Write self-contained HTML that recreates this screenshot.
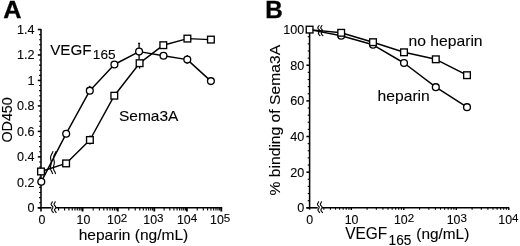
<!DOCTYPE html>
<html><head><meta charset="utf-8"><title>Figure</title>
<style>
html,body{margin:0;padding:0;background:#fff;}
body{width:520px;height:246px;overflow:hidden;font-family:"Liberation Sans",sans-serif;}
svg{display:block;}
.ax{stroke:#000;stroke-width:1.55;fill:none;}
.mn{stroke:#000;stroke-width:1.1;fill:none;}
.mj{stroke:#000;stroke-width:1.8;fill:none;}
.mj2{stroke:#000;stroke-width:1.4;fill:none;}
.sq{stroke:#000;stroke-width:1.15;fill:none;}
.ln{stroke:#000;stroke-width:1.45;fill:none;stroke-linejoin:round;}
.eb{stroke:#000;stroke-width:1.3;fill:none;}
.mk{stroke:#000;stroke-width:1.35;fill:#fff;}
.t{font-family:"Liberation Sans",sans-serif;fill:#000;stroke:#000;stroke-width:0.1;}
.b{font-family:"Liberation Sans",sans-serif;font-weight:bold;fill:#000;stroke:#000;stroke-width:0.35;}
</style></head><body>
<svg width="520" height="246" viewBox="0 0 520 246">
<defs><filter id="soft" x="0" y="0" width="520" height="246" filterUnits="userSpaceOnUse"><feGaussianBlur stdDeviation="0.42"/></filter></defs>
<g filter="url(#soft)">
<rect x="-5" y="-5" width="530" height="256" fill="#fff"/>
<line x1="41.0" y1="28.9" x2="41.0" y2="211.4" class="ax"/>
<line x1="37.8" y1="207.8" x2="51.4" y2="207.8" class="ax"/>
<line x1="55.800000000000004" y1="207.8" x2="222.2" y2="207.8" class="ax"/>
<line x1="37.8" y1="207.80" x2="41.0" y2="207.80" class="ax"/>
<line x1="37.8" y1="182.33" x2="41.0" y2="182.33" class="ax"/>
<line x1="37.8" y1="156.86" x2="41.0" y2="156.86" class="ax"/>
<line x1="37.8" y1="131.39" x2="41.0" y2="131.39" class="ax"/>
<line x1="37.8" y1="105.91" x2="41.0" y2="105.91" class="ax"/>
<line x1="37.8" y1="80.44" x2="41.0" y2="80.44" class="ax"/>
<line x1="37.8" y1="54.97" x2="41.0" y2="54.97" class="ax"/>
<line x1="37.8" y1="29.50" x2="41.0" y2="29.50" class="ax"/>
<line x1="39.1" y1="202.71" x2="41.0" y2="202.71" class="mn"/>
<line x1="39.1" y1="197.61" x2="41.0" y2="197.61" class="mn"/>
<line x1="39.1" y1="192.52" x2="41.0" y2="192.52" class="mn"/>
<line x1="39.1" y1="187.42" x2="41.0" y2="187.42" class="mn"/>
<line x1="39.1" y1="177.23" x2="41.0" y2="177.23" class="mn"/>
<line x1="39.1" y1="172.14" x2="41.0" y2="172.14" class="mn"/>
<line x1="39.1" y1="167.05" x2="41.0" y2="167.05" class="mn"/>
<line x1="39.1" y1="161.95" x2="41.0" y2="161.95" class="mn"/>
<line x1="39.1" y1="151.76" x2="41.0" y2="151.76" class="mn"/>
<line x1="39.1" y1="146.67" x2="41.0" y2="146.67" class="mn"/>
<line x1="39.1" y1="141.57" x2="41.0" y2="141.57" class="mn"/>
<line x1="39.1" y1="136.48" x2="41.0" y2="136.48" class="mn"/>
<line x1="39.1" y1="126.29" x2="41.0" y2="126.29" class="mn"/>
<line x1="39.1" y1="121.20" x2="41.0" y2="121.20" class="mn"/>
<line x1="39.1" y1="116.10" x2="41.0" y2="116.10" class="mn"/>
<line x1="39.1" y1="111.01" x2="41.0" y2="111.01" class="mn"/>
<line x1="39.1" y1="100.82" x2="41.0" y2="100.82" class="mn"/>
<line x1="39.1" y1="95.73" x2="41.0" y2="95.73" class="mn"/>
<line x1="39.1" y1="90.63" x2="41.0" y2="90.63" class="mn"/>
<line x1="39.1" y1="85.54" x2="41.0" y2="85.54" class="mn"/>
<line x1="39.1" y1="75.35" x2="41.0" y2="75.35" class="mn"/>
<line x1="39.1" y1="70.25" x2="41.0" y2="70.25" class="mn"/>
<line x1="39.1" y1="65.16" x2="41.0" y2="65.16" class="mn"/>
<line x1="39.1" y1="60.07" x2="41.0" y2="60.07" class="mn"/>
<line x1="39.1" y1="49.88" x2="41.0" y2="49.88" class="mn"/>
<line x1="39.1" y1="44.78" x2="41.0" y2="44.78" class="mn"/>
<line x1="39.1" y1="39.69" x2="41.0" y2="39.69" class="mn"/>
<line x1="39.1" y1="34.59" x2="41.0" y2="34.59" class="mn"/>
<line x1="82.60" y1="207.8" x2="82.60" y2="211.5" class="mj"/>
<line x1="117.80" y1="207.8" x2="117.80" y2="211.5" class="mj"/>
<line x1="154.30" y1="207.8" x2="154.30" y2="211.5" class="mj"/>
<line x1="186.90" y1="207.8" x2="186.90" y2="211.5" class="mj"/>
<line x1="221.30" y1="207.8" x2="221.30" y2="211.5" class="mj"/>
<line x1="58.56" y1="207.8" x2="58.56" y2="210.5" class="mn"/>
<line x1="64.61" y1="207.8" x2="64.61" y2="210.5" class="mn"/>
<line x1="68.91" y1="207.8" x2="68.91" y2="210.5" class="mn"/>
<line x1="72.24" y1="207.8" x2="72.24" y2="210.5" class="mn"/>
<line x1="74.97" y1="207.8" x2="74.97" y2="210.5" class="mn"/>
<line x1="77.27" y1="207.8" x2="77.27" y2="210.5" class="mn"/>
<line x1="79.27" y1="207.8" x2="79.27" y2="210.5" class="mn"/>
<line x1="81.03" y1="207.8" x2="81.03" y2="210.5" class="mn"/>
<line x1="93.20" y1="207.8" x2="93.20" y2="210.5" class="mn"/>
<line x1="99.39" y1="207.8" x2="99.39" y2="210.5" class="mn"/>
<line x1="103.79" y1="207.8" x2="103.79" y2="210.5" class="mn"/>
<line x1="107.20" y1="207.8" x2="107.20" y2="210.5" class="mn"/>
<line x1="109.99" y1="207.8" x2="109.99" y2="210.5" class="mn"/>
<line x1="112.35" y1="207.8" x2="112.35" y2="210.5" class="mn"/>
<line x1="114.39" y1="207.8" x2="114.39" y2="210.5" class="mn"/>
<line x1="116.19" y1="207.8" x2="116.19" y2="210.5" class="mn"/>
<line x1="128.79" y1="207.8" x2="128.79" y2="210.5" class="mn"/>
<line x1="135.21" y1="207.8" x2="135.21" y2="210.5" class="mn"/>
<line x1="139.78" y1="207.8" x2="139.78" y2="210.5" class="mn"/>
<line x1="143.31" y1="207.8" x2="143.31" y2="210.5" class="mn"/>
<line x1="146.20" y1="207.8" x2="146.20" y2="210.5" class="mn"/>
<line x1="148.65" y1="207.8" x2="148.65" y2="210.5" class="mn"/>
<line x1="150.76" y1="207.8" x2="150.76" y2="210.5" class="mn"/>
<line x1="152.63" y1="207.8" x2="152.63" y2="210.5" class="mn"/>
<line x1="164.11" y1="207.8" x2="164.11" y2="210.5" class="mn"/>
<line x1="169.85" y1="207.8" x2="169.85" y2="210.5" class="mn"/>
<line x1="173.93" y1="207.8" x2="173.93" y2="210.5" class="mn"/>
<line x1="177.09" y1="207.8" x2="177.09" y2="210.5" class="mn"/>
<line x1="179.67" y1="207.8" x2="179.67" y2="210.5" class="mn"/>
<line x1="181.85" y1="207.8" x2="181.85" y2="210.5" class="mn"/>
<line x1="183.74" y1="207.8" x2="183.74" y2="210.5" class="mn"/>
<line x1="185.41" y1="207.8" x2="185.41" y2="210.5" class="mn"/>
<line x1="197.26" y1="207.8" x2="197.26" y2="210.5" class="mn"/>
<line x1="203.31" y1="207.8" x2="203.31" y2="210.5" class="mn"/>
<line x1="207.61" y1="207.8" x2="207.61" y2="210.5" class="mn"/>
<line x1="210.94" y1="207.8" x2="210.94" y2="210.5" class="mn"/>
<line x1="213.67" y1="207.8" x2="213.67" y2="210.5" class="mn"/>
<line x1="215.97" y1="207.8" x2="215.97" y2="210.5" class="mn"/>
<line x1="217.97" y1="207.8" x2="217.97" y2="210.5" class="mn"/>
<line x1="219.73" y1="207.8" x2="219.73" y2="210.5" class="mn"/>
<line x1="309.6" y1="29.0" x2="309.6" y2="209.60000000000002" class="ax"/>
<line x1="306.40000000000003" y1="207.8" x2="317.7" y2="207.8" class="ax"/>
<line x1="322.09999999999997" y1="207.8" x2="509.20000000000005" y2="207.8" class="ax"/>
<line x1="306.40000000000003" y1="207.80" x2="309.6" y2="207.80" class="ax"/>
<line x1="306.40000000000003" y1="172.16" x2="309.6" y2="172.16" class="ax"/>
<line x1="306.40000000000003" y1="136.52" x2="309.6" y2="136.52" class="ax"/>
<line x1="306.40000000000003" y1="100.88" x2="309.6" y2="100.88" class="ax"/>
<line x1="306.40000000000003" y1="65.24" x2="309.6" y2="65.24" class="ax"/>
<line x1="306.40000000000003" y1="29.60" x2="309.6" y2="29.60" class="ax"/>
<line x1="307.70000000000005" y1="200.67" x2="309.6" y2="200.67" class="mn"/>
<line x1="307.70000000000005" y1="193.54" x2="309.6" y2="193.54" class="mn"/>
<line x1="307.70000000000005" y1="186.42" x2="309.6" y2="186.42" class="mn"/>
<line x1="307.70000000000005" y1="179.29" x2="309.6" y2="179.29" class="mn"/>
<line x1="307.70000000000005" y1="165.03" x2="309.6" y2="165.03" class="mn"/>
<line x1="307.70000000000005" y1="157.90" x2="309.6" y2="157.90" class="mn"/>
<line x1="307.70000000000005" y1="150.78" x2="309.6" y2="150.78" class="mn"/>
<line x1="307.70000000000005" y1="143.65" x2="309.6" y2="143.65" class="mn"/>
<line x1="307.70000000000005" y1="129.39" x2="309.6" y2="129.39" class="mn"/>
<line x1="307.70000000000005" y1="122.26" x2="309.6" y2="122.26" class="mn"/>
<line x1="307.70000000000005" y1="115.14" x2="309.6" y2="115.14" class="mn"/>
<line x1="307.70000000000005" y1="108.01" x2="309.6" y2="108.01" class="mn"/>
<line x1="307.70000000000005" y1="93.75" x2="309.6" y2="93.75" class="mn"/>
<line x1="307.70000000000005" y1="86.62" x2="309.6" y2="86.62" class="mn"/>
<line x1="307.70000000000005" y1="79.50" x2="309.6" y2="79.50" class="mn"/>
<line x1="307.70000000000005" y1="72.37" x2="309.6" y2="72.37" class="mn"/>
<line x1="307.70000000000005" y1="58.11" x2="309.6" y2="58.11" class="mn"/>
<line x1="307.70000000000005" y1="50.98" x2="309.6" y2="50.98" class="mn"/>
<line x1="307.70000000000005" y1="43.86" x2="309.6" y2="43.86" class="mn"/>
<line x1="307.70000000000005" y1="36.73" x2="309.6" y2="36.73" class="mn"/>
<line x1="351.30" y1="207.8" x2="351.30" y2="210.10000000000002" class="mj2"/>
<line x1="403.80" y1="207.8" x2="403.80" y2="210.10000000000002" class="mj2"/>
<line x1="456.30" y1="207.8" x2="456.30" y2="210.10000000000002" class="mj2"/>
<line x1="508.80" y1="207.8" x2="508.80" y2="210.10000000000002" class="mj2"/>
<line x1="323.85" y1="207.8" x2="323.85" y2="209.70000000000002" class="mn"/>
<line x1="330.41" y1="207.8" x2="330.41" y2="209.70000000000002" class="mn"/>
<line x1="335.50" y1="207.8" x2="335.50" y2="209.70000000000002" class="mn"/>
<line x1="339.65" y1="207.8" x2="339.65" y2="209.70000000000002" class="mn"/>
<line x1="343.17" y1="207.8" x2="343.17" y2="209.70000000000002" class="mn"/>
<line x1="346.21" y1="207.8" x2="346.21" y2="209.70000000000002" class="mn"/>
<line x1="348.90" y1="207.8" x2="348.90" y2="209.70000000000002" class="mn"/>
<line x1="367.10" y1="207.8" x2="367.10" y2="209.70000000000002" class="mn"/>
<line x1="376.35" y1="207.8" x2="376.35" y2="209.70000000000002" class="mn"/>
<line x1="382.91" y1="207.8" x2="382.91" y2="209.70000000000002" class="mn"/>
<line x1="388.00" y1="207.8" x2="388.00" y2="209.70000000000002" class="mn"/>
<line x1="392.15" y1="207.8" x2="392.15" y2="209.70000000000002" class="mn"/>
<line x1="395.67" y1="207.8" x2="395.67" y2="209.70000000000002" class="mn"/>
<line x1="398.71" y1="207.8" x2="398.71" y2="209.70000000000002" class="mn"/>
<line x1="401.40" y1="207.8" x2="401.40" y2="209.70000000000002" class="mn"/>
<line x1="419.60" y1="207.8" x2="419.60" y2="209.70000000000002" class="mn"/>
<line x1="428.85" y1="207.8" x2="428.85" y2="209.70000000000002" class="mn"/>
<line x1="435.41" y1="207.8" x2="435.41" y2="209.70000000000002" class="mn"/>
<line x1="440.50" y1="207.8" x2="440.50" y2="209.70000000000002" class="mn"/>
<line x1="444.65" y1="207.8" x2="444.65" y2="209.70000000000002" class="mn"/>
<line x1="448.17" y1="207.8" x2="448.17" y2="209.70000000000002" class="mn"/>
<line x1="451.21" y1="207.8" x2="451.21" y2="209.70000000000002" class="mn"/>
<line x1="453.90" y1="207.8" x2="453.90" y2="209.70000000000002" class="mn"/>
<line x1="472.10" y1="207.8" x2="472.10" y2="209.70000000000002" class="mn"/>
<line x1="481.35" y1="207.8" x2="481.35" y2="209.70000000000002" class="mn"/>
<line x1="487.91" y1="207.8" x2="487.91" y2="209.70000000000002" class="mn"/>
<line x1="493.00" y1="207.8" x2="493.00" y2="209.70000000000002" class="mn"/>
<line x1="497.15" y1="207.8" x2="497.15" y2="209.70000000000002" class="mn"/>
<line x1="500.67" y1="207.8" x2="500.67" y2="209.70000000000002" class="mn"/>
<line x1="503.71" y1="207.8" x2="503.71" y2="209.70000000000002" class="mn"/>
<line x1="506.40" y1="207.8" x2="506.40" y2="209.70000000000002" class="mn"/>
<polyline points="41.3,181.7 66.2,133.7 89.8,90.7 114.4,64.5 139.1,51.6 163.5,55.8 187.3,59.6 210.9,81.1" class="ln"/>
<polyline points="41.0,171.5 66.1,163.4 89.9,140.0 114.3,95.7 139.6,63.2 163.3,45.2 187.4,38.6 210.9,39.6" class="ln"/>
<polyline points="53.00,151.20 52.76,152.01 52.41,152.83 52.00,153.64 51.56,154.46 51.16,155.27 50.84,156.09 50.64,156.90 50.57,157.71 50.63,158.53 50.77,159.34 50.96,160.16 51.14,160.97 51.26,161.79 51.30,162.60 51.24,163.41 51.08,164.23 50.87,165.04 50.66,165.86 50.48,166.67 50.40,167.49 50.44,168.30 50.61,169.11 50.90,169.93 51.27,170.74 51.68,171.56 52.07,172.37 52.39,173.19 52.60,174.00" class="sq"/>
<polyline points="56.00,151.20 55.76,152.01 55.41,152.83 55.00,153.64 54.56,154.46 54.16,155.27 53.84,156.09 53.64,156.90 53.57,157.71 53.63,158.53 53.77,159.34 53.96,160.16 54.14,160.97 54.26,161.79 54.30,162.60 54.24,163.41 54.08,164.23 53.87,165.04 53.66,165.86 53.48,166.67 53.40,167.49 53.44,168.30 53.61,169.11 53.90,169.93 54.27,170.74 54.68,171.56 55.07,172.37 55.39,173.19 55.60,174.00" class="sq"/>
<polyline points="52.35,201.40 52.32,201.81 52.16,202.23 51.91,202.64 51.64,203.06 51.39,203.47 51.23,203.89 51.20,204.30 51.31,204.71 51.53,205.13 51.85,205.54 52.20,205.96 52.52,206.37 52.74,206.79 52.85,207.20 52.82,207.61 52.66,208.03 52.41,208.44 52.14,208.86 51.89,209.27 51.73,209.69 51.70,210.10 51.81,210.51 52.03,210.93 52.35,211.34 52.70,211.76 53.02,212.17 53.24,212.59 53.35,213.00" class="sq"/>
<polyline points="55.25,201.40 55.22,201.81 55.06,202.23 54.81,202.64 54.54,203.06 54.29,203.47 54.13,203.89 54.10,204.30 54.21,204.71 54.43,205.13 54.75,205.54 55.10,205.96 55.42,206.37 55.64,206.79 55.75,207.20 55.72,207.61 55.56,208.03 55.31,208.44 55.04,208.86 54.79,209.27 54.63,209.69 54.60,210.10 54.71,210.51 54.93,210.93 55.25,211.34 55.60,211.76 55.92,212.17 56.14,212.59 56.25,213.00" class="sq"/>
<polyline points="318.65,201.40 318.62,201.81 318.46,202.23 318.21,202.64 317.94,203.06 317.69,203.47 317.53,203.89 317.50,204.30 317.61,204.71 317.83,205.13 318.15,205.54 318.50,205.96 318.82,206.37 319.04,206.79 319.15,207.20 319.12,207.61 318.96,208.03 318.71,208.44 318.44,208.86 318.19,209.27 318.03,209.69 318.00,210.10 318.11,210.51 318.33,210.93 318.65,211.34 319.00,211.76 319.32,212.17 319.54,212.59 319.65,213.00" class="sq"/>
<polyline points="321.55,201.40 321.52,201.81 321.36,202.23 321.11,202.64 320.84,203.06 320.59,203.47 320.43,203.89 320.40,204.30 320.51,204.71 320.73,205.13 321.05,205.54 321.40,205.96 321.72,206.37 321.94,206.79 322.05,207.20 322.02,207.61 321.86,208.03 321.61,208.44 321.34,208.86 321.09,209.27 320.93,209.69 320.90,210.10 321.01,210.51 321.23,210.93 321.55,211.34 321.90,211.76 322.22,212.17 322.44,212.59 322.55,213.00" class="sq"/>
<line x1="139.1" y1="43.4" x2="139.1" y2="59.5" class="eb"/>
<line x1="138.1" y1="43.4" x2="140.1" y2="43.4" class="eb"/>
<line x1="139.6" y1="68.6" x2="139.6" y2="63" class="eb"/>
<line x1="89.8" y1="85.8" x2="89.8" y2="88" class="eb"/>
<line x1="187.3" y1="55.0" x2="187.3" y2="63.8" class="eb"/>
<line x1="90.0" y1="135.5" x2="90.0" y2="144.5" class="eb"/>
<circle cx="41.3" cy="181.7" r="3.4" class="mk"/>
<circle cx="66.2" cy="133.7" r="3.4" class="mk"/>
<circle cx="89.8" cy="90.7" r="3.4" class="mk"/>
<circle cx="114.4" cy="64.5" r="3.4" class="mk"/>
<circle cx="139.1" cy="51.6" r="3.4" class="mk"/>
<circle cx="163.5" cy="55.8" r="3.4" class="mk"/>
<circle cx="187.3" cy="59.6" r="3.4" class="mk"/>
<circle cx="210.9" cy="81.1" r="3.4" class="mk"/>
<rect x="37.65" y="168.15" width="6.7" height="6.7" class="mk"/>
<rect x="62.75" y="160.05" width="6.7" height="6.7" class="mk"/>
<rect x="86.55" y="136.65" width="6.7" height="6.7" class="mk"/>
<rect x="110.95" y="92.35" width="6.7" height="6.7" class="mk"/>
<rect x="136.25" y="59.85" width="6.7" height="6.7" class="mk"/>
<rect x="159.95" y="41.85" width="6.7" height="6.7" class="mk"/>
<rect x="184.05" y="35.25" width="6.7" height="6.7" class="mk"/>
<rect x="207.55" y="36.25" width="6.7" height="6.7" class="mk"/>
<polyline points="309.6,29.6 341.2,35.7 373.0,44.8 404.0,63.0 435.8,87.2 467.0,107.2" class="ln"/>
<polyline points="309.6,29.6 341.2,32.8 373.0,42.2 404.0,52.3 435.8,59.3 467.0,75.2" class="ln"/>
<polyline points="319.05,25.00 319.02,25.40 318.86,25.80 318.61,26.20 318.34,26.60 318.09,27.00 317.93,27.40 317.90,27.80 318.01,28.20 318.23,28.60 318.55,29.00 318.90,29.40 319.22,29.80 319.44,30.20 319.55,30.60 319.52,31.00 319.36,31.40 319.11,31.80 318.84,32.20 318.59,32.60 318.43,33.00 318.40,33.40 318.51,33.80 318.73,34.20 319.05,34.60 319.40,35.00 319.72,35.40 319.94,35.80 320.05,36.20" class="sq"/>
<polyline points="321.95,25.00 321.92,25.40 321.76,25.80 321.51,26.20 321.24,26.60 320.99,27.00 320.83,27.40 320.80,27.80 320.91,28.20 321.13,28.60 321.45,29.00 321.80,29.40 322.12,29.80 322.34,30.20 322.45,30.60 322.42,31.00 322.26,31.40 322.01,31.80 321.74,32.20 321.49,32.60 321.33,33.00 321.30,33.40 321.41,33.80 321.63,34.20 321.95,34.60 322.30,35.00 322.62,35.40 322.84,35.80 322.95,36.20" class="sq"/>
<circle cx="341.2" cy="35.7" r="3.4" class="mk"/>
<circle cx="373.0" cy="44.8" r="3.4" class="mk"/>
<circle cx="404.0" cy="63.0" r="3.4" class="mk"/>
<circle cx="435.8" cy="87.2" r="3.4" class="mk"/>
<circle cx="467.0" cy="107.2" r="3.4" class="mk"/>
<rect x="306.25" y="26.25" width="6.7" height="6.7" class="mk"/>
<rect x="337.85" y="29.45" width="6.7" height="6.7" class="mk"/>
<rect x="369.65" y="38.85" width="6.7" height="6.7" class="mk"/>
<rect x="400.65" y="48.95" width="6.7" height="6.7" class="mk"/>
<rect x="432.45" y="55.95" width="6.7" height="6.7" class="mk"/>
<rect x="463.65" y="71.85" width="6.7" height="6.7" class="mk"/>
<text x="3.3" y="17.9" font-size="24.8" text-anchor="start" textLength="18.2" lengthAdjust="spacingAndGlyphs" class="b" >A</text>
<text x="265.2" y="18.3" font-size="24.6" text-anchor="start" textLength="17.5" lengthAdjust="spacingAndGlyphs" class="b" >B</text>
<text x="34.6" y="212.20000000000002" font-size="12.6" text-anchor="end" class="t" >0</text>
<text x="34.6" y="186.72857142857143" font-size="12.6" text-anchor="end" class="t" >0.2</text>
<text x="34.6" y="161.25714285714287" font-size="12.6" text-anchor="end" class="t" >0.4</text>
<text x="34.6" y="135.7857142857143" font-size="12.6" text-anchor="end" class="t" >0.6</text>
<text x="34.6" y="110.31428571428572" font-size="12.6" text-anchor="end" class="t" >0.8</text>
<text x="34.6" y="84.84285714285714" font-size="12.6" text-anchor="end" class="t" >1</text>
<text x="34.6" y="59.37142857142856" font-size="12.6" text-anchor="end" class="t" >1.2</text>
<text x="34.6" y="33.89999999999997" font-size="12.6" text-anchor="end" class="t" >1.4</text>
<text x="42" y="224.3" font-size="12.4" text-anchor="middle" class="t" >0</text>
<text x="83.4" y="224.3" font-size="12.4" text-anchor="middle" class="t" >10</text>
<text x="117.2" y="224.3" font-size="12.4" text-anchor="middle" class="t">10<tspan dy="-2.4" font-size="11.6">2</tspan></text>
<text x="153.4" y="224.3" font-size="12.4" text-anchor="middle" class="t">10<tspan dy="-2.4" font-size="11.6">3</tspan></text>
<text x="187.0" y="224.3" font-size="12.4" text-anchor="middle" class="t">10<tspan dy="-2.4" font-size="11.6">4</tspan></text>
<text x="220.2" y="224.3" font-size="12.4" text-anchor="middle" class="t">10<tspan dy="-2.4" font-size="11.6">5</tspan></text>
<text x="78.7" y="239.6" font-size="14.4" text-anchor="start" textLength="109.6" lengthAdjust="spacingAndGlyphs" class="t" >heparin (ng/mL)</text>
<text transform="translate(11.6,142.6) rotate(-90)" font-size="14.4" class="t" textLength="45.4" lengthAdjust="spacingAndGlyphs">OD450</text>
<text x="50.2" y="54.5" font-size="15.4" class="t" textLength="41.4" lengthAdjust="spacingAndGlyphs">VEGF</text><text x="92.8" y="59.4" font-size="13.6" class="t" textLength="22.8" lengthAdjust="spacingAndGlyphs">165</text>
<text x="118.9" y="121.0" font-size="14.6" text-anchor="start" textLength="59.6" lengthAdjust="spacingAndGlyphs" class="t" >Sema3A</text>
<text x="304.2" y="212.20000000000002" font-size="12.6" text-anchor="end" class="t" >0</text>
<text x="304.2" y="176.56" font-size="12.6" text-anchor="end" class="t" >20</text>
<text x="304.2" y="140.92" font-size="12.6" text-anchor="end" class="t" >40</text>
<text x="304.2" y="105.28" font-size="12.6" text-anchor="end" class="t" >60</text>
<text x="304.2" y="69.63999999999999" font-size="12.6" text-anchor="end" class="t" >80</text>
<text x="304.2" y="34.00000000000002" font-size="12.6" text-anchor="end" class="t" >100</text>
<text x="309.6" y="224.3" font-size="12.4" text-anchor="middle" class="t" >0</text>
<text x="351.6" y="224.3" font-size="12.4" text-anchor="middle" class="t" >10</text>
<text x="404" y="224.3" font-size="12.4" text-anchor="middle" class="t">10<tspan dy="-2.4" font-size="11.6">2</tspan></text>
<text x="456.8" y="224.3" font-size="12.4" text-anchor="middle" class="t">10<tspan dy="-2.4" font-size="11.6">3</tspan></text>
<text x="508.4" y="224.3" font-size="12.4" text-anchor="middle" class="t">10<tspan dy="-2.4" font-size="11.6">4</tspan></text>
<text x="345.2" y="239.4" font-size="16" text-anchor="start" textLength="42.0" lengthAdjust="spacingAndGlyphs" class="t" >VEGF</text>
<text x="388.6" y="244.5" font-size="13.8" text-anchor="start" textLength="22.8" lengthAdjust="spacingAndGlyphs" class="t" >165</text>
<text x="416.3" y="239.2" font-size="14.8" text-anchor="start" textLength="53.0" lengthAdjust="spacingAndGlyphs" class="t" >(ng/mL)</text>
<text transform="translate(279.6,195.5) rotate(-90)" font-size="14.2" class="t" textLength="150.6" lengthAdjust="spacingAndGlyphs">% binding of Sema3A</text>
<text x="408.6" y="46.0" font-size="15" text-anchor="start" textLength="74.0" lengthAdjust="spacingAndGlyphs" class="t" >no heparin</text>
<text x="377.6" y="100.6" font-size="15" text-anchor="start" textLength="52.2" lengthAdjust="spacingAndGlyphs" class="t" >heparin</text>
</g>
</svg>
</body></html>
